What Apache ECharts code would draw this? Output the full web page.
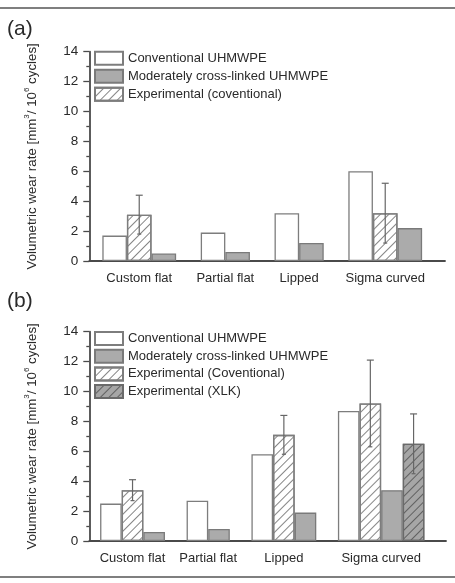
<!DOCTYPE html>
<html><head><meta charset="utf-8">
<script src="https://cdn.jsdelivr.net/npm/echarts@6/dist/echarts.min.js"></script>
<style>html,body{margin:0;padding:0;background:#fff}#c{width:455px;height:583px}</style>
</head><body><div id="c"></div>
<script>
// ---------- data ----------
const categories = ['Custom flat', 'Partial flat', 'Lipped', 'Sigma curved'];
const yTicks = [0, 2, 4, 6, 8, 10, 12, 14];
const yAxisName = '{n|Volumetric wear rate [mm}{s|3}{n|/ 10}{s|6}{n| cycles]}';

// panel (a)
const namesA = ['Conventional UHMWPE', 'Moderately cross-linked UHMWPE', 'Experimental (coventional)'];
const convA = [1.7, 1.9, 3.2, 6.0];
const modA = [0.5, 0.6, 1.2, 2.2];
const expA = [3.1, null, null, 3.2];
const expErrA = [1.3, null, null, 2.0];

// panel (b)
const namesB = ['Conventional UHMWPE', 'Moderately cross-linked UHMWPE', 'Experimental (Coventional)', 'Experimental (XLK)'];
const convB = [2.5, 2.7, 5.8, 8.7];
const modB = [0.6, 0.8, 1.9, 3.4];
const expB = [3.4, null, 7.1, 9.2];
const expErrB = [0.7, null, 1.3, 2.9];
const xlkB = [null, null, null, 6.5];
const xlkErrB = [null, null, null, 2.0];

// ---------- helpers ----------
const FONT = '"Liberation Sans", Arial, sans-serif';
const TXT = '#2a2a2a';
const AX = '#4a4a4a';

// place bars of each category in consecutive slots, one empty slot between groups
function layoutSlots(seriesList) {
  let slot = 0;
  const pos = seriesList.map(() => []);
  const centers = [];
  categories.forEach((c, ci) => {
    const start = slot;
    seriesList.forEach((vals, si) => {
      if (vals[ci] != null) { pos[si][ci] = slot; slot++; } else pos[si][ci] = null;
    });
    centers.push((start + slot - 1) / 2);
    slot++;
  });
  return { pos, centers };
}
function barData(pos, vals) {
  const out = [];
  vals.forEach((v, i) => { if (v != null) out.push([pos[i], v]); });
  return out;
}
function errData(pos, vals, errs) {
  const out = [];
  vals.forEach((v, i) => { if (v != null && errs[i] != null) out.push([pos[i], v, errs[i]]); });
  return out;
}

const hatchLight = { symbol: 'rect', symbolSize: 1, dashArrayX: [1, 0], dashArrayY: [1, 4.5], rotation: -Math.PI / 4, color: '#858585' };
const hatchDark = { symbol: 'rect', symbolSize: 1, dashArrayX: [1, 0], dashArrayY: [1, 4.5], rotation: -Math.PI / 4, color: '#606060' };

const styles = {
  conv: { color: '#ffffff', borderColor: '#7d7d7d', borderWidth: 1.3 },
  mod: { color: '#ababab', borderColor: '#7a7a7a', borderWidth: 1.3 },
  exp: { color: '#ffffff', borderColor: '#7d7d7d', borderWidth: 1.3, decal: hatchLight },
  xlk: { color: '#a6a6a6', borderColor: '#6a6a6a', borderWidth: 1.3, decal: hatchDark }
};

function barSeries(name, data, style, idx) {
  return {
    type: 'bar', name, data, xAxisIndex: idx, yAxisIndex: idx,
    barWidth: '100%', barGap: '-100%', itemStyle: style, z: 2,
    emphasis: { disabled: true }, animation: false
  };
}
function errSeries(data, idx) {
  return {
    type: 'custom', name: 'err' + idx, xAxisIndex: idx, yAxisIndex: idx, z: 5, animation: false,
    data,
    renderItem(params, api) {
      const x = api.value(0), v = api.value(1), e = api.value(2);
      const top = api.coord([x, v + e]);
      const bot = api.coord([x, v - e]);
      const st = { stroke: '#666', lineWidth: 1.2 };
      const c = 3.5;
      return {
        type: 'group', children: [
          { type: 'line', shape: { x1: top[0], y1: top[1], x2: bot[0], y2: bot[1] }, style: st },
          { type: 'line', shape: { x1: top[0] - c, y1: top[1], x2: top[0] + c, y2: top[1] }, style: st },
          { type: 'line', shape: { x1: bot[0] - 2, y1: bot[1], x2: bot[0] + 2, y2: bot[1] }, style: st }
        ]
      };
    }
  };
}

const LA = layoutSlots([convA, expA, modA]);
const LB = layoutSlots([convB, expB, modB, xlkB]);

function xAxis(idx, min, max, centers) {
  return {
    type: 'value', gridIndex: idx, min, max,
    splitLine: { show: false },
    axisLine: { onZero: false, lineStyle: { color: AX, width: 1.8 } },
    axisTick: { show: false },
    axisLabel: {
      customValues: centers, margin: 11, fontSize: 13, color: TXT, fontFamily: FONT,
      formatter: (v) => { let k = 0, d = 1e9; centers.forEach((c, i) => { if (Math.abs(c - v) < d) { d = Math.abs(c - v); k = i; } }); return categories[k]; }
    }
  };
}
function yAxis(idx) {
  return {
    type: 'value', gridIndex: idx, min: yTicks[0], max: yTicks[yTicks.length - 1], interval: yTicks[1] - yTicks[0],
    splitLine: { show: false },
    axisLine: { show: true, onZero: false, lineStyle: { color: AX, width: 1.8 } },
    axisTick: { show: true, length: 6, lineStyle: { color: AX, width: 1.3 } },
    minorTick: { show: true, splitNumber: 2, length: 3, lineStyle: { color: AX, width: 1.3 } },
    axisLabel: { margin: 11, fontSize: 13.5, color: TXT, fontFamily: FONT },
    name: yAxisName, nameLocation: 'middle', nameRotate: 90, nameGap: 50,
    nameTextStyle: {
      fontFamily: FONT, color: TXT,
      rich: {
        n: { fontSize: 13.3, lineHeight: 17, verticalAlign: 'bottom', fontFamily: FONT, color: TXT },
        s: { fontSize: 8, lineHeight: 11, verticalAlign: 'top', fontFamily: FONT, color: TXT }
      }
    }
  };
}
function legend(names, top, gap) {
  return {
    data: names, orient: 'vertical', left: 94, top, padding: 0,
    itemWidth: 28, itemHeight: 13, itemGap: gap, icon: 'rect', selectedMode: false,
    textStyle: { fontSize: 13, color: TXT, fontFamily: FONT, lineHeight: 13 }
  };
}

const option = {
  backgroundColor: '#ffffff',
  animation: false,
  title: [
    { text: '(a)', left: 7, top: 19, padding: 0, textStyle: { fontSize: 21, fontWeight: 'normal', color: TXT, fontFamily: FONT } },
    { text: '(b)', left: 7, top: 291, padding: 0, textStyle: { fontSize: 21, fontWeight: 'normal', color: TXT, fontFamily: FONT } }
  ],
  graphic: [
    { type: 'line', shape: { x1: 0, y1: 8, x2: 455, y2: 8 }, style: { stroke: '#555', lineWidth: 1.5 } },
    { type: 'line', shape: { x1: 0, y1: 577, x2: 455, y2: 577 }, style: { stroke: '#555', lineWidth: 1.5 } }
  ],
  legend: [legend(namesA, 50.7, 3), legend(namesB, 331, 2.7)],
  grid: [
    { left: 89.3, right: 10, top: 51.7, height: 209.3, containLabel: false },
    { left: 89.3, right: 9, top: 331.7, height: 209.3, containLabel: false }
  ],
  xAxis: [xAxis(0, -1.03, 13.43, LA.centers), xAxis(1, -1.0, 15.5, LB.centers)],
  yAxis: [yAxis(0), yAxis(1)],
  series: [
    barSeries(namesA[0], barData(LA.pos[0], convA), styles.conv, 0),
    barSeries(namesA[2], barData(LA.pos[1], expA), styles.exp, 0),
    barSeries(namesA[1], barData(LA.pos[2], modA), styles.mod, 0),
    errSeries(errData(LA.pos[1], expA, expErrA), 0),
    barSeries(namesB[0], barData(LB.pos[0], convB), styles.conv, 1),
    barSeries(namesB[2], barData(LB.pos[1], expB), styles.exp, 1),
    barSeries(namesB[1], barData(LB.pos[2], modB), styles.mod, 1),
    barSeries(namesB[3], barData(LB.pos[3], xlkB), styles.xlk, 1),
    errSeries(errData(LB.pos[1], expB, expErrB), 1),
    errSeries(errData(LB.pos[3], xlkB, xlkErrB), 1)
  ]
};
const chart = echarts.init(document.getElementById('c'), null, { renderer: 'canvas' });
chart.setOption(option);
</script></body></html>
